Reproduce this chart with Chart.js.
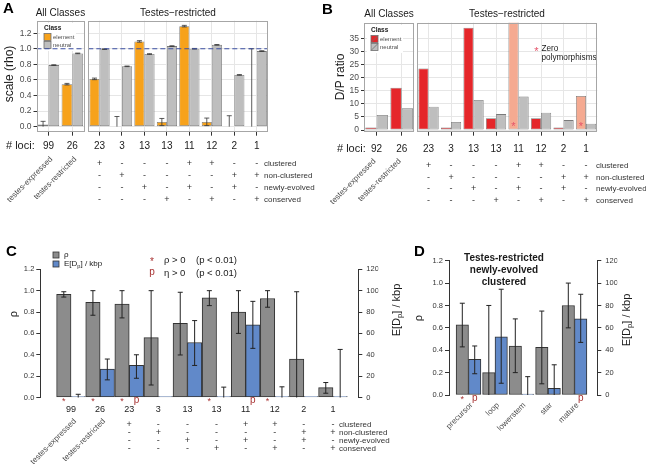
<!DOCTYPE html>
<html>
<head>
<meta charset="utf-8">
<title>rho and D/P by miRNA class</title>
<script src="https://cdn.jsdelivr.net/npm/chart.js@4.4.1/dist/chart.umd.min.js"></script>
<style>
  html, body { margin: 0; padding: 0; background: #fff; }
  #wrap { position: relative; width: 646px; height: 470px; overflow: hidden; }
  #wrap canvas { position: absolute; left: 0; top: 0; }
</style>
</head>
<body>
<div id="wrap">
  <canvas id="a1" width="646" height="470"></canvas>
  <canvas id="a2" width="646" height="470"></canvas>
  <canvas id="b1" width="646" height="470"></canvas>
  <canvas id="b2" width="646" height="470"></canvas>
  <canvas id="c" width="646" height="470"></canvas>
  <canvas id="d" width="646" height="470"></canvas>
</div>
<script>
// ---- data ----
// classes of the testes-restricted facet (one column each)
const trClasses = ['clustered', 'non-clustered', 'newly-evolved', 'conserved',
  'clustered newly-evolved', 'clustered conserved', 'non-clustered newly-evolved', 'non-clustered conserved'];
const allClasses = ['testes-expressed', 'testes-restricted'];
const rowNames = ['clustered', 'non-clustered', 'newly-evolved', 'conserved'];
const rowClustered = ['+', '-', '-', '-', '+', '+', '-', '-'];
const rowNonClustered = ['-', '+', '-', '-', '-', '-', '+', '+'];
const rowNewly = ['-', '-', '+', '-', '+', '-', '+', '-'];
const rowConserved = ['-', '-', '-', '+', '-', '+', '-', '+'];

// panel A: scale (rho)
const aAllLoci = [99, 26];
const aAllElement = [0.026, 0.545];
const aAllElementLo = [0, 0.535];
const aAllElementHi = [0.068, 0.555];
const aAllNeutral = [0.79, 0.94];
const aAllNeutralLo = [0.786, 0.936];
const aAllNeutralHi = [0.794, 0.944];
const aTrLoci = [23, 3, 13, 13, 11, 12, 2, 1];
const aTrElement = [0.613, 0, 1.094, 0.06, 1.29, 0.06, 0, 0];
const aTrElementLo = [0.603, 0, 1.084, 0.013, 1.28, 0.013, 0, 0];
const aTrElementHi = [0.623, 0.13, 1.104, 0.105, 1.30, 0.11, 0.14, 1.0];
const aTrNeutral = [0.995, 0.774, 0.932, 1.034, 1.0, 1.05, 0.664, 0.97];
const aTrNeutralLo = [0.991, 0.770, 0.928, 1.030, 0.996, 1.046, 0.660, 0.966];
const aTrNeutralHi = [0.999, 0.778, 0.936, 1.038, 1.004, 1.054, 0.668, 0.974];

// panel B: D/P ratio (1000 = zero polymorphisms, runs off the panel)
const bAllLoci = [92, 26];
const bAllElement = [1.0, 16.2];
const bAllNeutral = [5.75, 8.3];
const bTrLoci = [23, 3, 13, 13, 11, 12, 2, 1];
const bTrElement = [23.6, 1.0, 39.2, 4.5, 1000, 4.5, 1.0, 13.0];
const bTrNeutral = [8.9, 3.1, 11.5, 6.1, 12.8, 6.6, 3.8, 2.4];
const bTrZeroPoly = [false, false, false, false, true, false, false, true];

// panel C: rho and E[Dp] per class
const cLoci = [99, 26, 23, 3, 13, 13, 11, 12, 2, 1];
const cRho = [0.966, 0.89, 0.875, 0.56, 0.695, 0.934, 0.80, 0.927, 0.36, 0.093];
const cRhoLo = [0.94, 0.77, 0.745, 0.117, 0.398, 0.86, 0.60, 0.845, 0, 0.04];
const cRhoHi = [0.99, 1.0, 1.0, 1.0, 0.985, 1.0, 1.0, 1.0, 0.99, 0.14];
const cDp = [0, 26.5, 30, 0, 51.5, 0, 68, 0, 0, 0];
const cDpLo = [0, 16.5, 18, null, 30, 0, 46, 0, null, 0];
const cDpHi = [3, 36, 40, null, 72, 9.7, 90, 10, null, 45];
const cRhoSig = [1, 1, 1, 0, 0, 1, 0, 1, 0, 0];
const cEtaSig = [0, 0, 1, 0, 0, 0, 1, 0, 0, 0];

// panel D: parts of testes-restricted newly-evolved clustered hairpins
const dParts = ['precursor', 'loop', 'lowerstem', 'star', 'mature'];
const dRho = [0.626, 0.20, 0.438, 0.426, 0.80];
const dRhoLo = [0.43, 0, 0.20, 0.10, 0.60];
const dRhoHi = [0.82, 0.80, 0.68, 0.75, 1.0];
const dDp = [31.9, 52, 0, 6, 68];
const dDpLo = [19, 10.5, 0, 0, 47];
const dDpHi = [43.8, 94.5, 16.4, 27, 90];
const dRhoSig = [1, 0, 0, 0, 0];
const dEtaSig = [1, 0, 0, 0, 1];

// ---- look ----
const W = 646, H = 470;
const FONT = "'Liberation Sans', Arial, Helvetica, sans-serif";
const GRID = '#E6E6E6';
const SIG = '#A83232';
const ORANGE = '#F7A21B', RED = '#E5262A', SALMON = '#F5AA91', LGRAY = '#BEBEBE';
const DGRAY = '#8C8C8C', BLUE = '#6189C9';

Chart.defaults.font.family = FONT;
Chart.defaults.color = '#4D4D4D';
Chart.defaults.animation = false;
Chart.defaults.responsive = false;
Chart.defaults.plugins.legend.display = false;
Chart.defaults.plugins.tooltip.enabled = false;

function text(ctx, s, x, y, o) {
  o = o || {};
  ctx.save();
  ctx.font = (o.bold ? 'bold ' : '') + (o.size || 9) + 'px ' + FONT;
  ctx.fillStyle = o.color || '#1A1A1A';
  ctx.textAlign = o.align || 'center';
  ctx.textBaseline = o.base || 'middle';
  ctx.translate(x, y);
  if (o.rot) ctx.rotate(o.rot);
  ctx.fillText(s, 0, 0);
  ctx.restore();
}

// "E[Dp] / kbp" with a subscript p
function edp(ctx, x, y, size, rot, align) {
  ctx.save();
  ctx.translate(x, y);
  ctx.rotate(rot || 0);
  ctx.fillStyle = '#1A1A1A';
  ctx.textBaseline = 'middle';
  ctx.textAlign = 'left';
  const big = size + 'px ' + FONT, small = (size * 0.7) + 'px ' + FONT;
  ctx.font = big;
  const w1 = ctx.measureText('E[D').width, w3 = ctx.measureText('] / kbp').width;
  ctx.font = small;
  const w2 = ctx.measureText('p').width;
  let cx = align === 'left' ? 0 : -(w1 + w2 + w3) / 2;
  ctx.font = big; ctx.fillText('E[D', cx, 0); cx += w1;
  ctx.font = small; ctx.fillText('p', cx, size * 0.3); cx += w2;
  ctx.font = big; ctx.fillText('] / kbp', cx, 0);
  ctx.restore();
}

function errorBars(chart, dsIndex, lo, hi, cap, color, width) {
  const meta = chart.getDatasetMeta(dsIndex);
  const ys = chart.scales[meta.yAxisID];
  const ctx = chart.ctx;
  ctx.save();
  ctx.strokeStyle = color;
  ctx.lineWidth = width;
  meta.data.forEach((bar, i) => {
    if (lo[i] == null || hi[i] == null) return;
    const x = bar.x, y1 = ys.getPixelForValue(lo[i]), y2 = ys.getPixelForValue(hi[i]);
    ctx.beginPath();
    ctx.moveTo(x, y1); ctx.lineTo(x, y2);
    if (hi[i] !== 0) { ctx.moveTo(x - cap, y2); ctx.lineTo(x + cap, y2); }
    if (lo[i] !== 0) { ctx.moveTo(x - cap, y1); ctx.lineTo(x + cap, y1); }
    ctx.stroke();
  });
  ctx.restore();
}

function panelBox(chart) {
  const a = chart.chartArea, ctx = chart.ctx;
  ctx.save();
  ctx.strokeStyle = '#A6A6A6';
  ctx.lineWidth = 1;
  ctx.strokeRect(Math.round(a.left) + 0.5, Math.round(a.top) + 0.5,
    Math.round(a.right - a.left) - 1, Math.round(a.bottom - a.top) - 1);
  ctx.restore();
}

function dashedOne(chart) {
  const a = chart.chartArea, ctx = chart.ctx;
  const y = chart.scales.y.getPixelForValue(1.0);
  ctx.save();
  ctx.strokeStyle = '#3B4FA3';
  ctx.lineWidth = 1.2;
  ctx.setLineDash([5, 3]);
  ctx.beginPath(); ctx.moveTo(a.left, y); ctx.lineTo(a.right, y); ctx.stroke();
  ctx.restore();
}

function legendKey(ctx, x, y, fill, slash) {
  ctx.save();
  ctx.fillStyle = fill;
  ctx.fillRect(x, y, 7, 7);
  ctx.strokeStyle = '#6E6E6E';
  ctx.lineWidth = 0.8;
  ctx.strokeRect(x, y, 7, 7);
  if (slash) { ctx.beginPath(); ctx.moveTo(x, y + 7); ctx.lineTo(x + 7, y); ctx.stroke(); }
  ctx.restore();
}

function classLegend(ctx, x, y, elemColor, slash) {
  ctx.save();
  ctx.fillStyle = '#fff';
  ctx.fillRect(x, y, 36, 28);
  ctx.restore();
  text(ctx, 'Class', x + 4, y + 5, { size: 6.5, bold: true, align: 'left' });
  legendKey(ctx, x + 4, y + 10.5, elemColor, slash);
  legendKey(ctx, x + 4, y + 18.5, LGRAY, slash);
  text(ctx, 'element', x + 13, y + 14, { size: 6, align: 'left', color: '#4D4D4D' });
  text(ctx, 'neutral', x + 13, y + 22, { size: 6, align: 'left', color: '#4D4D4D' });
}

function lociRow(chart, loci, y) {
  const xs = chart.scales.x;
  loci.forEach((n, i) => text(chart.ctx, String(n), xs.getPixelForValue(i), y, { size: 10 }));
}

function classTable(chart, rowsY, labelX, xOf) {
  const rows = [rowClustered, rowNonClustered, rowNewly, rowConserved];
  rows.forEach((r, k) => {
    r.forEach((s, i) => text(chart.ctx, s, xOf(i), rowsY[k], { size: 9, color: '#333' }));
    text(chart.ctx, rowNames[k], labelX, rowsY[k], { size: 8, align: 'left', color: '#333' });
  });
}

function facet(id, area, y, labels, datasets, showY, hooks) {
  const yw = showY ? 20 : 0;
  return new Chart(document.getElementById(id), {
    type: 'bar',
    data: { labels: labels, datasets: datasets },
    options: {
      layout: { padding: { left: area.left - yw, right: W - area.right, top: area.top, bottom: H - area.bottom - 4 } },
      scales: {
        x: {
          offset: true,
          grid: { offset: false, color: GRID, tickColor: '#333', tickLength: 4 },
          ticks: { display: false },
          border: { display: false },
          afterFit: s => { s.height = 4; }
        },
        y: {
          min: y.min, max: y.max,
          ticks: { display: showY, stepSize: y.step, includeBounds: false, font: { size: 8.5 }, color: '#4D4D4D', padding: 2, callback: y.fmt },
          grid: { color: GRID, tickColor: '#333', tickLength: 3, drawTicks: showY },
          border: { display: false },
          afterBuildTicks: s => { s.ticks = s.ticks.filter(t => t.value <= y.top); },
          afterFit: s => { s.width = yw; }
        }
      }
    },
    plugins: [Object.assign({ id: id + 'Deco' }, hooks)]
  });
}

function bars(label, data, color, border) {
  return {
    label: label, data: data, backgroundColor: color, borderColor: border || '#7A7A7A',
    borderWidth: 0.8, borderSkipped: false, categoryPercentage: 0.9, barPercentage: 1, clip: 0
  };
}

const aY = { min: -0.065, max: 1.36, step: 0.2, top: 1.2, fmt: v => v.toFixed(1) };
const bY = { min: -0.65, max: 41.1, step: 5, top: 35, fmt: v => String(v) };

// ---- A, All Classes ----
facet('a1', { left: 36.5, right: 84.3, top: 20.7, bottom: 131.7 }, aY, allClasses,
  [bars('element', aAllElement, ORANGE), bars('neutral', aAllNeutral, LGRAY)], true, {
    afterDatasetsDraw(chart) {
      errorBars(chart, 0, aAllElementLo, aAllElementHi, 2.5, '#333', 0.8);
      errorBars(chart, 1, aAllNeutralLo, aAllNeutralHi, 2.5, '#333', 0.8);
    },
    afterDraw(chart) {
      const ctx = chart.ctx, xs = chart.scales.x;
      classLegend(ctx, 40, 23, ORANGE, false);
      dashedOne(chart);
      panelBox(chart);
      text(ctx, 'A', 3, 9, { size: 15, bold: true, align: 'left', color: '#000' });
      text(ctx, 'All Classes', 60.4, 13, { size: 10 });
      text(ctx, 'scale (rho)', 10, 74, { size: 12, rot: -Math.PI / 2 });
      text(ctx, '# loci:', 6, 146, { size: 11, align: 'left' });
      lociRow(chart, aAllLoci, 146);
      allClasses.forEach((s, i) => text(ctx, s, xs.getPixelForValue(i) + 3, 158,
        { size: 8, align: 'right', rot: -Math.PI / 4, color: '#4D4D4D' }));
    }
  });

// ---- A, Testes-restricted ----
facet('a2', { left: 88.3, right: 268, top: 20.7, bottom: 131.7 }, aY, trClasses,
  [bars('element', aTrElement, ORANGE), bars('neutral', aTrNeutral, LGRAY)], false, {
    afterDatasetsDraw(chart) {
      errorBars(chart, 0, aTrElementLo, aTrElementHi, 2.5, '#333', 0.8);
      errorBars(chart, 1, aTrNeutralLo, aTrNeutralHi, 2.5, '#333', 0.8);
    },
    afterDraw(chart) {
      const xs = chart.scales.x;
      dashedOne(chart);
      panelBox(chart);
      text(chart.ctx, 'Testes\u2212restricted', 178, 13, { size: 10 });
      lociRow(chart, aTrLoci, 146);
      classTable(chart, [164, 176, 188, 199.5], 264, i => xs.getPixelForValue(i));
    }
  });

// ---- B, All Classes ----
facet('b1', { left: 364, right: 414.3, top: 22.7, bottom: 131.7 }, bY, allClasses,
  [bars('element', bAllElement, RED), bars('neutral', bAllNeutral, LGRAY)], true, {
    afterDraw(chart) {
      const ctx = chart.ctx, xs = chart.scales.x;
      classLegend(ctx, 367, 25, RED, true);
      panelBox(chart);
      text(ctx, 'B', 322, 10, { size: 15, bold: true, align: 'left', color: '#000' });
      text(ctx, 'All Classes', 389, 14, { size: 10 });
      text(ctx, 'D/P ratio', 341, 77, { size: 12, rot: -Math.PI / 2 });
      text(ctx, '# loci:', 337, 149, { size: 11, align: 'left' });
      lociRow(chart, bAllLoci, 149);
      allClasses.forEach((s, i) => text(ctx, s, xs.getPixelForValue(i) - 2, 160,
        { size: 8, align: 'right', rot: -Math.PI / 4, color: '#4D4D4D' }));
    }
  });

// ---- B, Testes-restricted ----
facet('b2', { left: 417.3, right: 597.3, top: 22.7, bottom: 131.7 }, bY, trClasses,
  [bars('element', bTrElement, bTrZeroPoly.map(z => z ? SALMON : RED)), bars('neutral', bTrNeutral, LGRAY)], false, {
    afterDraw(chart) {
      const ctx = chart.ctx, xs = chart.scales.x, ys = chart.scales.y;
      const el = chart.getDatasetMeta(0).data;
      bTrZeroPoly.forEach((z, i) => { if (z) text(ctx, '*', el[i].x, ys.getPixelForValue(1.2), { size: 11, color: '#E5536A' }); });
      text(ctx, '*', 536.5, 52, { size: 11, color: '#E5536A' });
      text(ctx, 'Zero', 541.5, 48.5, { size: 8.2, align: 'left' });
      text(ctx, 'polymorphisms', 541.5, 58, { size: 8.2, align: 'left' });
      panelBox(chart);
      text(ctx, 'Testes\u2212restricted', 507, 14, { size: 10 });
      lociRow(chart, bTrLoci, 149);
      classTable(chart, [166, 177.5, 189, 200.5], 596, i => xs.getPixelForValue(i));
    }
  });

// ---- C and D: grouped bars on a numeric x axis, two value axes ----
function rhoDpChart(id, area, xmin, xmax, rho, dp, thickness, hooks) {
  const pts = arr => arr.map((v, i) => ({ x: i + 1, y: v }));
  const yAxis = (pos, max, step, fmt) => ({
    position: pos, min: 0, max: max,
    ticks: { stepSize: step, font: { size: 7.5 }, color: '#333', padding: pos === 'left' ? 2 : 4, callback: fmt },
    grid: { drawOnChartArea: false, tickColor: '#333', tickLength: 4 },
    border: { display: true, color: '#333', width: 1 },
    afterFit: s => { s.width = 20; }
  });
  return new Chart(document.getElementById(id), {
    type: 'bar',
    data: {
      datasets: [
        { label: '\u03c1', data: pts(rho), yAxisID: 'y', backgroundColor: DGRAY, borderColor: '#333',
          borderWidth: 1, borderSkipped: false, barThickness: thickness },
        { label: 'E[Dp] / kbp', data: pts(dp), yAxisID: 'y1', backgroundColor: BLUE, borderColor: '#333',
          borderWidth: 1, borderSkipped: false, barThickness: thickness, minBarLength: 1 }
      ]
    },
    options: {
      layout: { padding: { left: area.left - 20, right: W - area.right - 20, top: area.top, bottom: H - area.bottom } },
      scales: {
        x: {
          type: 'linear', display: false, offset: false, bounds: 'data', min: xmin, max: xmax,
          afterBuildTicks: s => { s.min = xmin; s.max = xmax; }
        },
        y: yAxis('left', 1.2, 0.2, v => v.toFixed(1)),
        y1: yAxis('right', 120, 20, v => String(v))
      }
    },
    plugins: [Object.assign({ id: id + 'Deco' }, hooks)]
  });
}

rhoDpChart('c', { left: 40.3, right: 358.3, top: 269.3, bottom: 397.5 }, -0.055, 10.87, cRho, cDp, 14.4, {
  afterDatasetsDraw(chart) {
    errorBars(chart, 0, cRhoLo, cRhoHi, 2.5, '#222', 1);
    errorBars(chart, 1, cDpLo, cDpHi, 2.5, '#222', 1);
  },
  afterDraw(chart) {
    const ctx = chart.ctx, xs = chart.scales.x;
    const g = chart.getDatasetMeta(0).data, b = chart.getDatasetMeta(1).data;
    cRhoSig.forEach((s, i) => { if (s) text(ctx, '*', g[i].x, 402, { size: 9, color: SIG }); });
    cEtaSig.forEach((s, i) => { if (s) text(ctx, 'p', b[i].x, 400, { size: 10, color: SIG }); });
    cLoci.forEach((n, i) => text(ctx, String(n), xs.getPixelForValue(i + 1), 410, { size: 9, color: '#222' }));
    classTable(chart, [425, 433, 441, 449], 339, i => xs.getPixelForValue(i + 3));
    allClasses.forEach((s, i) => text(ctx, s, xs.getPixelForValue(i + 1) + 4, 420,
      { size: 8, align: 'right', rot: -Math.PI / 4, color: '#4D4D4D' }));
    text(ctx, 'C', 6, 252, { size: 15, bold: true, align: 'left', color: '#000' });
    text(ctx, '\u03c1', 14, 314, { size: 11, rot: -Math.PI / 2 });
    edp(ctx, 397, 310, 11, -Math.PI / 2);
    // legend
    ctx.save();
    ctx.strokeStyle = '#333'; ctx.lineWidth = 0.8;
    ctx.fillStyle = DGRAY; ctx.fillRect(53, 252, 6, 6); ctx.strokeRect(53, 252, 6, 6);
    ctx.fillStyle = BLUE; ctx.fillRect(53, 261, 6, 6); ctx.strokeRect(53, 261, 6, 6);
    ctx.restore();
    text(ctx, '\u03c1', 64, 254.5, { size: 8, align: 'left' });
    edp(ctx, 64, 264, 8, 0, 'left');
    text(ctx, '*', 152, 262, { size: 10, color: SIG });
    text(ctx, '\u03c1 > 0', 164, 260, { size: 9.5, align: 'left' });
    text(ctx, '(p < 0.01)', 196, 260, { size: 9.5, align: 'left' });
    text(ctx, 'p', 152, 272, { size: 10, color: SIG });
    text(ctx, '\u03b7 > 0', 164, 273, { size: 9.5, align: 'left' });
    text(ctx, '(p < 0.01)', 196, 273, { size: 9.5, align: 'left' });
  }
});

rhoDpChart('d', { left: 449, right: 597.3, top: 260.7, bottom: 395 }, 0.264, 5.86, dRho, dDp, 12.4, {
  afterDatasetsDraw(chart) {
    errorBars(chart, 0, dRhoLo, dRhoHi, 2.5, '#222', 1);
    errorBars(chart, 1, dDpLo, dDpHi, 2.5, '#222', 1);
  },
  afterDraw(chart) {
    const ctx = chart.ctx, xs = chart.scales.x;
    const g = chart.getDatasetMeta(0).data, b = chart.getDatasetMeta(1).data;
    dRhoSig.forEach((s, i) => { if (s) text(ctx, '*', g[i].x, 400, { size: 9, color: SIG }); });
    dEtaSig.forEach((s, i) => { if (s) text(ctx, 'p', b[i].x, 398, { size: 10, color: SIG }); });
    dParts.forEach((s, i) => text(ctx, s, xs.getPixelForValue(i + 1) + 3, 404,
      { size: 8, align: 'right', rot: -Math.PI / 4, color: '#4D4D4D' }));
    text(ctx, 'D', 414, 252, { size: 15, bold: true, align: 'left', color: '#000' });
    text(ctx, 'Testes-restricted', 504, 258, { size: 10, bold: true });
    text(ctx, 'newly-evolved', 504, 270, { size: 10, bold: true });
    text(ctx, 'clustered', 504, 282, { size: 10, bold: true });
    text(ctx, '\u03c1', 419, 318, { size: 11, rot: -Math.PI / 2 });
    edp(ctx, 627, 320, 11, -Math.PI / 2);
  }
});
</script>
</body>
</html>
